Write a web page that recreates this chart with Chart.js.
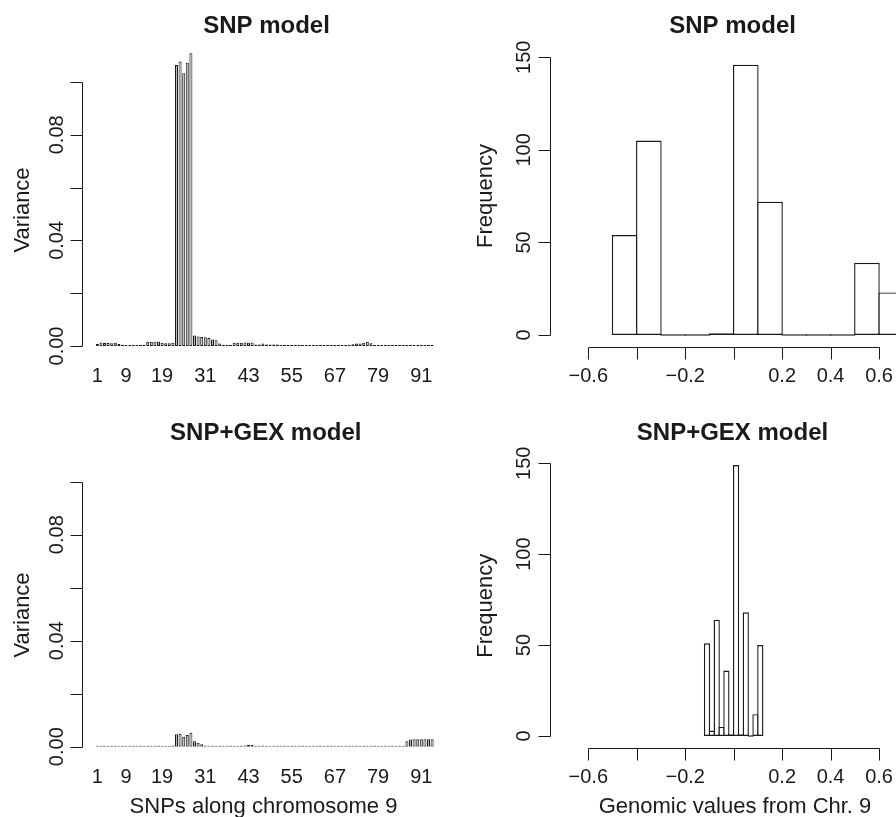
<!DOCTYPE html>
<html>
<head>
<meta charset="utf-8">
<script src="https://cdn.jsdelivr.net/npm/chart.js@4.4.1/dist/chart.umd.min.js"></script>
<style>
  html, body { margin: 0; padding: 0; background: #fff; overflow: hidden; width: 896px; height: 817px; }
  canvas { position: absolute; }
</style>
</head>
<body>
<canvas id="snp-bars" width="448" height="408" style="left:0;top:0"></canvas>
<canvas id="gex-bars" width="448" height="409" style="left:0;top:408px"></canvas>
<canvas id="snp-hist" width="472" height="408" style="left:448px;top:0"></canvas>
<canvas id="gex-hist" width="448" height="409" style="left:448px;top:408px"></canvas>
<script>
// variance per SNP along chromosome 9 (94 SNPs)
const snpVariance = [
  0.0008, 0.0013, 0.0011, 0.0011, 0.0010, 0.0012, 0.0008, 0.0005, 0.0003, 0.0002,
  0.0001, 0.0001, 0.0002, 0.0005, 0.0016, 0.0016, 0.0016, 0.0017, 0.0012, 0.0010,
  0.0010, 0.0012, 0.1064, 0.1078, 0.1033, 0.1073, 0.1109, 0.0040, 0.0036, 0.0034,
  0.0033, 0.0030, 0.0025, 0.0022, 0.0009, 0.0005, 0.0003, 0.0004, 0.0012, 0.0012,
  0.0012, 0.0013, 0.0012, 0.0013, 0.0006, 0.0006, 0.0009, 0.0006, 0.0006, 0.0006,
  0.0006, 0.0003, 0.0003, 0.0003, 0.0004, 0.0003, 0.0004, 0.0003, 0.0002, 0.0002,
  0.0001, 0.0001, 0.0001, 0.0001, 0.0002, 0.0001, 0.0001, 0.0001, 0.0001, 0.0002,
  0.0005, 0.0007, 0.0009, 0.0009, 0.0012, 0.0016, 0.0010, 0.0003, 0.0002, 0.0002,
  0.0002, 0.0002, 0.0002, 0.0002, 0.0002, 0.0003, 0.0004, 0.0004, 0.0004, 0.0004,
  0.0004, 0.0004, 0.0004, 0.0004
];
const snpGexVariance = [
  0.0001, 0.0001, 0.0001, 0.0002, 0.0003, 0.0003, 0.0002, 0.0001, 0.0001, 0.0001,
  0.0001, 0.0001, 0.0001, 0.0001, 0.0001, 0.0001, 0.0001, 0.0001, 0.0001, 0.0002,
  0.0004, 0.0005, 0.0047, 0.0049, 0.0038, 0.0044, 0.0053, 0.0021, 0.0015, 0.0009,
  0.0005, 0.0003, 0.0001, 0.0001, 0.0001, 0.0001, 0.0001, 0.0001, 0.0003, 0.0004,
  0.0004, 0.0005, 0.0006, 0.0006, 0.0004, 0.0003, 0.0005, 0.0004, 0.0003, 0.0003,
  0.0001, 0.0001, 0.0001, 0.0001, 0.0001, 0.0001, 0.0001, 0.0001, 0.0001, 0.0002,
  0.0004, 0.0004, 0.0002, 0.0001, 0.0001, 0.0001, 0.0001, 0.0001, 0.0001, 0.0001,
  0.0001, 0.0001, 0.0002, 0.0002, 0.0002, 0.0002, 0.0002, 0.0002, 0.0001, 0.0001,
  0.0001, 0.0001, 0.0001, 0.0001, 0.0001, 0.0004, 0.0021, 0.0027, 0.0028, 0.0028,
  0.0028, 0.0028, 0.0028, 0.0028
];
const snpTickLabels = [1, 9, 19, 31, 43, 55, 67, 79, 91];
const varTicks = [0, 0.02, 0.04, 0.06, 0.08, 0.10];
const varTickLabels = ["0.00", "", "0.04", "", "0.08", ""];

// histograms of genomic values
const snpBreaks = [-0.5, -0.4, -0.3, -0.2, -0.1, 0, 0.1, 0.2, 0.3, 0.4, 0.5, 0.6, 0.7];
const snpCounts = [54, 105, 0, 0, 1, 146, 72, 0, 0, 0, 39, 23];
const gexBreaks = [-0.12, -0.10, -0.08, -0.06, -0.04, -0.02, 0, 0.02, 0.04, 0.06, 0.08, 0.10, 0.12];
const gexCounts = [51, 3, 64, 5, 36, 1, 149, 1, 68, 0, 12, 50];
const freqTicks = [0, 50, 100, 150];
const freqTickLabels = ["0", "50", "100", "150"];
const valueTicks = [-0.6, -0.4, -0.2, 0, 0.2, 0.4, 0.6];
const valueTickLabels = ["\u22120.6", "", "\u22120.2", "", "0.2", "0.4", "0.6"];

const family = "'Liberation Sans', Arial, Helvetica, sans-serif";
const ink = "#1a1a1a";

// draws R base-graphics style axes, titles and labels
function rStyleAxes(cfg) {
  return {
    id: "rStyleAxes",
    afterDraw(chart) {
      const { ctx, chartArea: area, scales: { x, y } } = chart;
      ctx.save();
      ctx.strokeStyle = ink;
      ctx.fillStyle = ink;
      ctx.lineWidth = 1;
      ctx.textAlign = "center";
      ctx.textBaseline = "alphabetic";

      ctx.font = "bold 24px " + family;
      ctx.fillText(cfg.title, cfg.titleX, cfg.titleY);

      // y axis
      const ax = Math.round(area.left) + 0.5;
      const yPix = cfg.yTicks.map((t) => Math.round(y.getPixelForValue(t)) + 0.5);
      ctx.beginPath();
      ctx.moveTo(ax, yPix[0]);
      ctx.lineTo(ax, yPix[yPix.length - 1]);
      yPix.forEach((p) => {
        ctx.moveTo(ax, p);
        ctx.lineTo(ax - 12, p);
      });
      ctx.stroke();

      ctx.font = "20px " + family;
      cfg.yTickLabels.forEach((lab, i) => {
        if (!lab) return;
        ctx.save();
        ctx.translate(cfg.yLabelX, y.getPixelForValue(cfg.yTicks[i]));
        ctx.rotate(-Math.PI / 2);
        ctx.fillText(lab, 0, 0);
        ctx.restore();
      });

      ctx.font = "22px " + family;
      ctx.save();
      ctx.translate(cfg.yTitleX, cfg.yTitleY);
      ctx.rotate(-Math.PI / 2);
      ctx.fillText(cfg.yTitle, 0, 0);
      ctx.restore();

      // x axis (only the histograms have a line)
      if (cfg.xAxisLine) {
        const ay = Math.round(area.bottom) + 0.5;
        const xPix = cfg.xTicks.map((t) => Math.round(x.getPixelForValue(t)) + 0.5);
        ctx.beginPath();
        ctx.moveTo(xPix[0], ay);
        ctx.lineTo(xPix[xPix.length - 1], ay);
        xPix.forEach((p) => {
          ctx.moveTo(p, ay);
          ctx.lineTo(p, ay + 12);
        });
        ctx.stroke();
      }

      ctx.font = "20px " + family;
      cfg.xTickLabels.forEach((lab, i) => {
        if (lab === "") return;
        ctx.fillText(String(lab), x.getPixelForValue(cfg.xTicks[i]), cfg.xLabelY);
      });

      if (cfg.xTitle) {
        ctx.font = "22px " + family;
        ctx.fillText(cfg.xTitle, cfg.xTitleX, cfg.xTitleY);
      }
      ctx.restore();
    },
  };
}

const baseOptions = {
  responsive: false,
  animation: false,
  events: [],
  plugins: { legend: { display: false }, tooltip: { enabled: false } },
};

const varianceChart = (id, values, padding, axes) => {
  const points = values.map((v, i) => ({ x: i + 1, y: v }));
  new Chart(document.getElementById(id), {
    type: "bar",
    data: {
      datasets: [{
        data: points,
        backgroundColor: "#bebebe",
        borderColor: ink,
        borderWidth: 1,
        borderSkipped: false,
        categoryPercentage: 1,
        barPercentage: 0.833,
        minBarLength: 1,
      }],
    },
    options: {
      ...baseOptions,
      layout: { padding },
      scales: {
        x: {
          type: "linear", display: false, offset: false, bounds: "data",
          min: -3.25, max: 96.19,
          ticks: { stepSize: 50, includeBounds: false },
        },
        y: { display: false, min: 0, max: 0.12 },
      },
    },
    plugins: [rStyleAxes(axes)],
  });
};

const histChart = (id, breaks, counts, padding, scales, barPct, axes) => {
  const points = counts.map((c, i) => ({ x: (breaks[i] + breaks[i + 1]) / 2, y: c }));
  new Chart(document.getElementById(id), {
    type: "bar",
    data: {
      datasets: [{
        data: points,
        backgroundColor: "#ffffff",
        borderColor: ink,
        borderWidth: 1.4,
        borderSkipped: false,
        categoryPercentage: 1,
        barPercentage: barPct, // slight overlap so shared edges are one line
        minBarLength: 1.4,
      }],
    },
    options: {
      ...baseOptions,
      layout: { padding },
      scales: {
        x: {
          type: "linear", display: false, offset: false, bounds: "data",
          min: scales.xMin, max: scales.xMax,
          ticks: { stepSize: 1, includeBounds: false },
        },
        y: { display: false, min: scales.yMin, max: 160 },
      },
    },
    plugins: [rStyleAxes(axes)],
  });
};

varianceChart("snp-bars", snpVariance, { left: 82, right: 8, top: 29.2, bottom: 62 }, {
  title: "SNP model", titleX: 266.5, titleY: 33.3,
  yTicks: varTicks, yTickLabels: varTickLabels, yLabelX: 62.5,
  yTitle: "Variance", yTitleX: 28.5, yTitleY: 210,
  xTicks: snpTickLabels, xTickLabels: snpTickLabels, xLabelY: 382,
});

varianceChart("gex-bars", snpGexVariance, { left: 82, right: 8, top: 20.7, bottom: 70.3 }, {
  title: "SNP+GEX model", titleX: 265.8, titleY: 32,
  yTicks: varTicks, yTickLabels: varTickLabels, yLabelX: 62.5,
  yTitle: "Variance", yTitleX: 28.5, yTitleY: 207,
  xTicks: snpTickLabels, xTickLabels: snpTickLabels, xLabelY: 375.3,
  xTitle: "SNPs along chromosome 9", xTitleX: 263.5, xTitleY: 404.5,
});

histChart("snp-hist", snpBreaks, snpCounts, { left: 102, right: 0, top: 38.8, bottom: 61.3 },
  { xMin: -0.758, xMax: 0.769, yMin: -6.32 }, 1.058, {
  title: "SNP model", titleX: 284.6, titleY: 33.3,
  yTicks: freqTicks, yTickLabels: freqTickLabels, yLabelX: 81.5,
  yTitle: "Frequency", yTitleX: 44, yTitleY: 196,
  xAxisLine: true, xTicks: valueTicks, xTickLabels: valueTickLabels, xLabelY: 381.7,
});

histChart("gex-hist", gexBreaks, gexCounts, { left: 102, right: 0, top: 37.1, bottom: 69.3 },
  { xMin: -0.758, xMax: 0.670, yMin: -6.44 }, 1.289, {
  title: "SNP+GEX model", titleX: 284.5, titleY: 32,
  yTicks: freqTicks, yTickLabels: freqTickLabels, yLabelX: 81.5,
  yTitle: "Frequency", yTitleX: 44, yTitleY: 197.8,
  xAxisLine: true, xTicks: valueTicks, xTickLabels: valueTickLabels, xLabelY: 375.3,
  xTitle: "Genomic values from Chr. 9", xTitleX: 287, xTitleY: 404.5,
});
</script>
</body>
</html>
